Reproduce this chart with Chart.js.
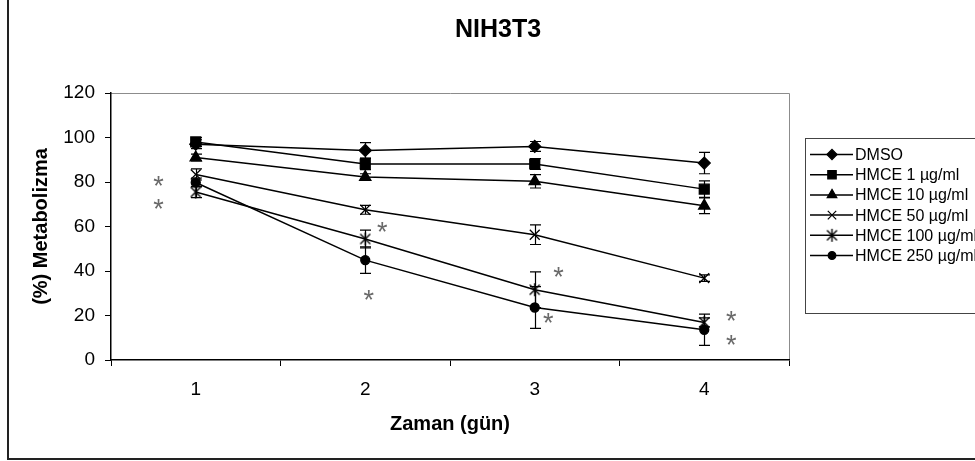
<!DOCTYPE html>
<html>
<head>
<meta charset="utf-8">
<script src="https://cdn.jsdelivr.net/npm/chart.js@4.4.1/dist/chart.umd.min.js"></script>
<style>
    body { margin: 0; background: #fff; }
    #wrap { width: 975px; height: 461px; }
</style>
</head>
<body>
<div id="wrap"><canvas id="metabolismChart" width="975" height="461"></canvas></div>
<script>
// Days on the x axis
const days = ['1', '2', '3', '4'];
const yTicks = [0, 20, 40, 60, 80, 100, 120];

// Mean % metabolism per group
const dmso    = [97, 94.2, 96, 88.5];
const hmce1   = [98, 88.1, 88.1, 76.8];
const hmce10  = [91, 82.2, 80.3, 69.3];
const hmce50  = [83.4, 67.5, 56.3, 36.8];
const hmce100 = [75.5, 54.4, 31.6, 16.9];
const hmce250 = [79.8, 44.9, 23.6, 13.6];

// Standard deviations (error bars)
const dmsoErr    = [2, 3.5, 2.2, 4.8];
const hmce1Err   = [2, 2.5, 2.4, 3.7];
const hmce10Err  = [1.5, 1.5, 3, 3.5];
const hmce50Err  = [2.5, 2, 4.4, 1.5];
const hmce100Err = [2.5, 4, 8, 2];
const hmce250Err = [2, 6, 9.4, 7];

// Significance marks (*) : x as category index, y as % value
const starX = [-0.22, -0.22, 1.1, 1.02, 2.14, 2.08, 3.16, 3.16];
const starY = [80.6, 70.2, 60, 29.3, 39.7, 18.9, 19.6, 8.8];

const FONT = "'Liberation Sans', Arial, sans-serif";

// Excel style asterisk marker: X with a vertical stroke
function makeAsteriskMarker() {
    const c = document.createElement('canvas');
    c.width = 15;
    c.height = 15;
    const g = c.getContext('2d');
    g.strokeStyle = '#000';
    g.lineWidth = 1.4;
    g.beginPath();
    g.moveTo(2.5, 2.5); g.lineTo(12.5, 12.5);
    g.moveTo(12.5, 2.5); g.lineTo(2.5, 12.5);
    g.moveTo(7.5, 1); g.lineTo(7.5, 14);
    g.stroke();
    return c;
}

function series(label, data, errors, pointStyle, radius) {
    return {
        label: label,
        data: data,
        errors: errors,
        borderColor: '#000',
        backgroundColor: '#000',
        borderWidth: 1.5,
        pointStyle: pointStyle,
        pointRadius: radius,
        pointHoverRadius: radius,
        pointBorderWidth: 1.3,
        pointBackgroundColor: '#000',
        pointBorderColor: '#000',
        tension: 0
    };
}

const framePlugin = {
    id: 'frame',
    beforeDraw(chart) {
        const ctx = chart.ctx;
        const { left, right, top } = chart.chartArea;
        ctx.save();
        ctx.fillStyle = '#fff';
        ctx.fillRect(0, 0, chart.width, chart.height);
        // outer border
        ctx.strokeStyle = '#222';
        ctx.lineWidth = 2;
        ctx.strokeRect(8, -10, 1000, 469);
        // grey plot area border (top and right)
        ctx.strokeStyle = '#8c8c8c';
        ctx.lineWidth = 1;
        ctx.beginPath();
        ctx.moveTo(left, top + 0.5);
        ctx.lineTo(right + 0.5, top + 0.5);
        ctx.lineTo(right + 0.5, chart.chartArea.bottom);
        ctx.stroke();
        ctx.restore();
    }
};

const errorBarPlugin = {
    id: 'errorBars',
    beforeDatasetsDraw(chart) {
        const { ctx, scales: { x, y } } = chart;
        ctx.save();
        ctx.strokeStyle = '#000';
        ctx.lineWidth = 1.2;
        chart.data.datasets.forEach(ds => {
            ds.data.forEach((v, i) => {
                const e = ds.errors[i];
                const px = Math.round(x.getPixelForValue(i)) + 0.5;
                const yTop = y.getPixelForValue(v + e);
                const yBot = y.getPixelForValue(v - e);
                ctx.beginPath();
                ctx.moveTo(px, yTop); ctx.lineTo(px, yBot);
                ctx.moveTo(px - 5.5, yTop); ctx.lineTo(px + 5.5, yTop);
                ctx.moveTo(px - 5.5, yBot); ctx.lineTo(px + 5.5, yBot);
                ctx.stroke();
            });
        });
        ctx.restore();
    }
};

const decorPlugin = {
    id: 'decor',
    afterDraw(chart) {
        const { ctx, scales: { x, y } } = chart;
        ctx.save();

        // title
        ctx.fillStyle = '#000';
        ctx.font = 'bold 25px ' + FONT;
        ctx.textAlign = 'center';
        ctx.textBaseline = 'middle';
        ctx.fillText('NIH3T3', 498, 30);

        // significance asterisks
        ctx.fillStyle = '#6a6a6a';
        ctx.font = '27px ' + FONT;
        ctx.textBaseline = 'alphabetic';
        const m = ctx.measureText('*');
        const shift = (m.actualBoundingBoxAscent - m.actualBoundingBoxDescent) / 2;
        starX.forEach((sx, k) => {
            ctx.fillText('*', x.getPixelForValue(sx), y.getPixelForValue(starY[k]) + shift);
        });

        // legend box
        ctx.strokeStyle = '#444';
        ctx.lineWidth = 1;
        ctx.strokeRect(805.5, 138.5, 200, 175);
        ctx.font = '16px ' + FONT;
        ctx.textAlign = 'left';
        ctx.textBaseline = 'middle';
        chart.data.datasets.forEach((ds, i) => {
            const ly = 154.5 + i * 20.2;
            ctx.strokeStyle = '#000';
            ctx.fillStyle = '#000';
            ctx.lineWidth = 1.5;
            ctx.beginPath();
            ctx.moveTo(810, ly);
            ctx.lineTo(853, ly);
            ctx.stroke();
            ctx.lineWidth = 1.2;
            Chart.helpers.drawPoint(ctx, {
                pointStyle: ds.pointStyle,
                radius: ds.pointRadius * 0.85,
                borderWidth: 1.2,
                rotation: 0
            }, 832, ly);
            ctx.fillStyle = '#000';
            ctx.fillText(ds.label, 855, ly + 1);
        });
        ctx.restore();
    }
};

const ctx = document.getElementById('metabolismChart').getContext('2d');

new Chart(ctx, {
    type: 'line',
    data: {
        labels: days,
        datasets: [
            series('DMSO', dmso, dmsoErr, 'rectRot', 6),
            series('HMCE 1 µg/ml', hmce1, hmce1Err, 'rect', 7),
            series('HMCE 10 µg/ml', hmce10, hmce10Err, 'triangle', 6.5),
            series('HMCE 50 µg/ml', hmce50, hmce50Err, 'crossRot', 7),
            series('HMCE 100 µg/ml', hmce100, hmce100Err, makeAsteriskMarker(), 7),
            series('HMCE 250 µg/ml', hmce250, hmce250Err, 'circle', 4.5)
        ]
    },
    options: {
        responsive: false,
        animation: false,
        layout: {
            padding: { left: 10, top: 93, right: 186, bottom: 0 }
        },
        plugins: {
            legend: { display: false },
            title: { display: false },
            tooltip: { enabled: false }
        },
        scales: {
            x: {
                offset: true,
                afterFit: (scale) => { scale.height = 101; },
                grid: {
                    offset: true,
                    drawOnChartArea: false,
                    drawTicks: true,
                    tickLength: 6,
                    color: '#000'
                },
                border: { color: '#000', width: 1.5 },
                ticks: {
                    color: '#000',
                    padding: 12,
                    font: { family: FONT, size: 19 }
                },
                title: {
                    display: true,
                    text: 'Zaman (gün)',
                    color: '#000',
                    font: { family: FONT, size: 20, weight: 'bold' },
                    padding: { top: 0, bottom: 25 }
                }
            },
            y: {
                min: 0,
                max: 120,
                afterFit: (scale) => { scale.width = 101; },
                afterBuildTicks: (scale) => {
                    scale.ticks = yTicks.map(v => ({ value: v }));
                },
                grid: {
                    drawOnChartArea: false,
                    drawTicks: true,
                    tickLength: 6,
                    color: '#000'
                },
                border: { color: '#000', width: 1.5 },
                ticks: {
                    color: '#000',
                    padding: 10,
                    font: { family: FONT, size: 19 }
                },
                title: {
                    display: true,
                    text: '(%) Metabolizma',
                    color: '#000',
                    font: { family: FONT, size: 20, weight: 'bold' },
                    padding: { top: 19, bottom: 0 }
                }
            }
        }
    },
    plugins: [framePlugin, errorBarPlugin, decorPlugin]
});
</script>
</body>
</html>
